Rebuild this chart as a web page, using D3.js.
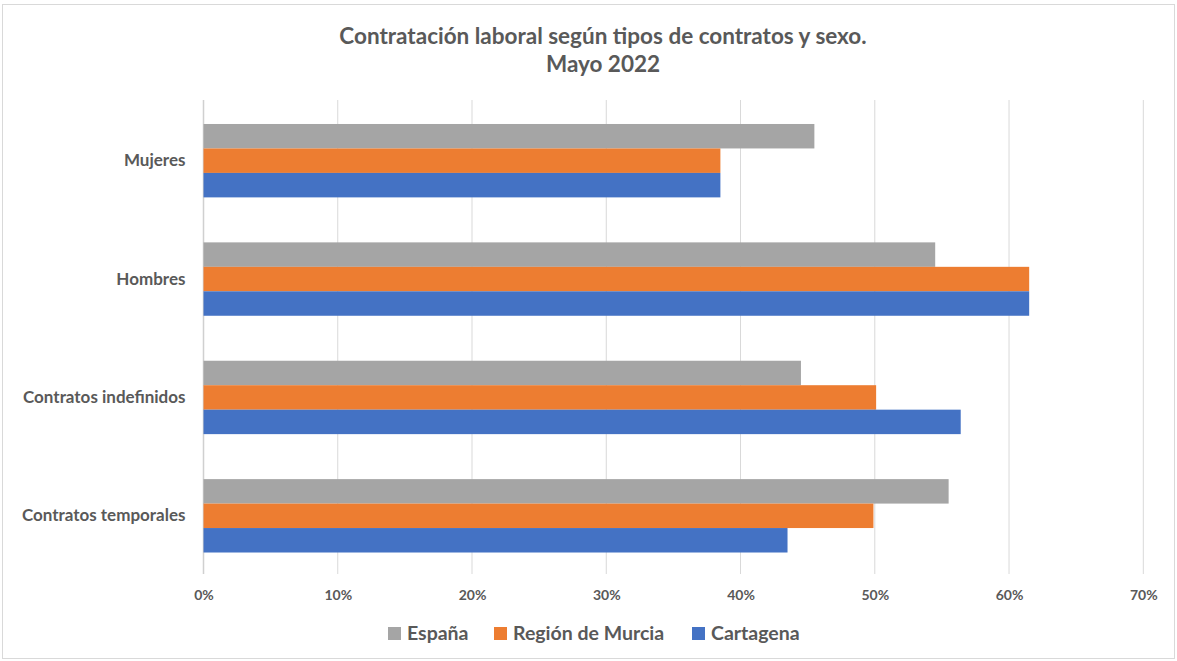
<!DOCTYPE html>
<html>
<head>
<meta charset="utf-8">
<script src="https://cdn.jsdelivr.net/npm/d3@7"></script>
<style>
  html, body { margin: 0; padding: 0; background: #fff; }
  svg { display: block; font-family: Lato, "Open Sans", sans-serif; }
</style>
</head>
<body>
<svg width="1177" height="661"></svg>
<script>
// Chart data
const categories = ["Mujeres", "Hombres", "Contratos indefinidos", "Contratos temporales"];
const seriesNames = ["España", "Región de Murcia", "Cartagena"];
const espana = [45.5, 54.5, 44.5, 55.5];
const murcia = [38.5, 61.5, 50.1, 49.9];
const cartagena = [38.5, 61.5, 56.4, 43.5];
const xTicks = [0, 10, 20, 30, 40, 50, 60, 70];

const colors = ["#A5A5A5", "#ED7D31", "#4472C4"];
const textColor = "#595959";

const svg = d3.select("svg");

// outer chart border
svg.append("rect")
    .attr("x", 2.5).attr("y", 4.5)
    .attr("width", 1172).attr("height", 654)
    .attr("fill", "#fff")
    .attr("stroke", "#d9d9d9");

const plot = { left: 203.5, right: 1143.3, top: 100, bottom: 574 };

const x = d3.scaleLinear().domain([0, 70]).range([plot.left, plot.right]);
const y = d3.scaleBand().domain(categories).range([plot.top + 1.5, plot.bottom + 1]).paddingInner(0.38).paddingOuter(0.19);
const ySub = d3.scaleBand().domain(seriesNames).range([0, y.bandwidth()]);

// Title
const title = svg.append("text")
    .attr("text-anchor", "middle")
    .attr("font-size", 22.5).attr("font-weight", "bold")
    .attr("fill", textColor);
title.append("tspan").attr("x", 603).attr("y", 44)
    .text("Contratación laboral según tipos de contratos y sexo.");
title.append("tspan").attr("x", 603).attr("y", 72)
    .text("Mayo 2022");

// Gridlines
svg.append("g")
    .selectAll("line")
    .data(xTicks)
    .join("line")
    .attr("x1", d => x(d)).attr("x2", d => x(d))
    .attr("y1", plot.top).attr("y2", plot.bottom)
    .attr("stroke", d => d === 0 ? "#d0d0d0" : "#d9d9d9")
    .attr("stroke-width", d => d === 0 ? 1.5 : 1);

// Bars
const rows = categories.map((c, i) => ({
    cat: c,
    vals: [espana[i], murcia[i], cartagena[i]]
}));

svg.append("g")
    .selectAll("g")
    .data(rows)
    .join("g")
    .attr("transform", d => `translate(0,${y(d.cat)})`)
    .selectAll("rect")
    .data(d => d.vals.map((v, j) => ({ name: seriesNames[j], v, j })))
    .join("rect")
    .attr("x", x(0))
    .attr("y", d => ySub(d.name))
    .attr("width", d => x(d.v) - x(0))
    .attr("height", ySub.bandwidth())
    .attr("fill", d => colors[d.j]);

// Category labels
const yAxis = svg.append("g")
    .attr("transform", `translate(${plot.left},0)`)
    .call(d3.axisLeft(y).tickSize(0).tickPadding(18));
yAxis.select(".domain").remove();
yAxis.selectAll("text")
    .attr("font-size", 17).attr("font-weight", "bold")
    .attr("font-family", "Lato, sans-serif")
    .attr("fill", textColor);

// X axis labels
const xAxis = svg.append("g")
    .attr("transform", `translate(0,${plot.bottom})`)
    .call(d3.axisBottom(x).tickValues(xTicks).tickFormat(d => d + "%").tickSize(0).tickPadding(16));
xAxis.select(".domain").remove();
xAxis.selectAll("text")
    .attr("font-size", 14).attr("font-weight", "bold")
    .attr("font-family", "Lato, sans-serif")
    .attr("fill", textColor);

// Legend
const legendX = [388, 494, 692];
const legend = svg.append("g")
    .selectAll("g")
    .data(seriesNames)
    .join("g")
    .attr("transform", (d, i) => `translate(${legendX[i]},627)`);
legend.append("rect")
    .attr("width", 13).attr("height", 13)
    .attr("fill", (d, i) => colors[i]);
legend.append("text")
    .attr("x", 19).attr("y", 13)
    .attr("font-size", 19.5).attr("font-weight", "bold")
    .attr("fill", textColor)
    .text(d => d);
</script>
</body>
</html>
